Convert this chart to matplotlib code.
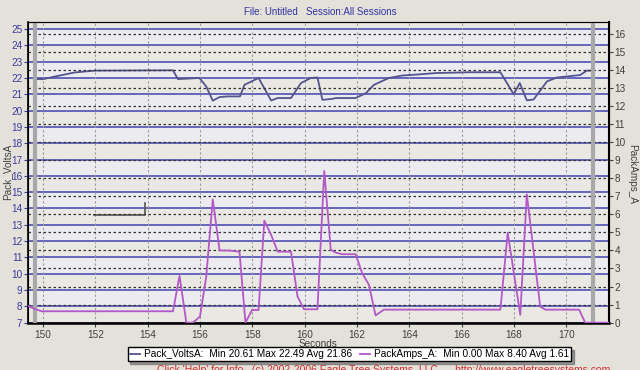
import numpy as np
import matplotlib.pyplot as plt
from matplotlib.lines import Line2D

plt.rcParams['font.family'] = ['Liberation Sans', 'DejaVu Sans']

# Pack_VoltsA trace (seconds, volts)
volts_t = [149.70, 150.01, 150.46, 151.22, 151.98, 154.97, 155.16, 155.98, 156.24,
           156.49, 156.75, 157.05, 157.53, 157.70, 158.24, 158.72, 158.97, 159.48,
           159.86, 160.24, 160.49, 160.68, 161.06, 161.19, 161.95, 162.34, 162.65,
           163.22, 163.73, 164.37, 165.00, 166.27, 167.48, 167.99, 168.22, 168.49,
           168.75, 169.26, 169.64, 170.53, 170.78, 170.97]
volts_v = [21.93, 21.93, 22.09, 22.34, 22.45, 22.47, 21.93, 22.00, 21.48,
           20.61, 20.83, 20.87, 20.87, 21.58, 22.00, 20.62, 20.77, 20.77,
           21.69, 22.00, 22.03, 20.66, 20.72, 20.77, 20.77, 21.07, 21.58,
           22.00, 22.15, 22.22, 22.30, 22.35, 22.35, 21.00, 21.69, 20.63,
           20.68, 21.79, 22.03, 22.18, 22.45, 22.45]

# PackAmps_A trace (seconds, amps)
amps_t = [149.44, 149.62, 149.95, 154.97, 155.22, 155.48, 155.73, 156.00, 156.24,
          156.49, 156.75, 157.13, 157.51, 157.74, 157.99, 158.24, 158.46, 158.72,
          158.97, 159.48, 159.73, 159.98, 160.49, 160.75, 161.00, 161.19, 161.44,
          161.95, 162.20, 162.46, 162.71, 163.03, 167.48, 167.76, 168.24, 168.49,
          169.00, 169.20, 170.49, 170.72, 171.60]
amps_a = [0.92, 0.80, 0.63, 0.63, 2.59, 0.00, 0.00, 0.33, 2.55,
          6.83, 4.00, 3.99, 3.93, 0.00, 0.70, 0.70, 5.65, 4.86,
          3.93, 3.93, 1.44, 0.74, 0.74, 8.40, 4.03, 3.88, 3.79,
          3.79, 2.74, 2.09, 0.40, 0.72, 0.72, 4.98, 0.43, 7.11,
          0.89, 0.72, 0.72, 0.00, 0.00]

# small gray bracket trace
mark_t = [151.96, 153.91, 153.91]
mark_v = [13.60, 13.60, 14.33]

cursor_t = [149.70, 171.00]

x_ticks = list(range(150, 171, 2))
volt_ticks = list(range(7, 26))
amp_ticks = list(range(0, 17))

title = 'File: Untitled   Session:All Sessions'
legend_volts = 'Pack_VoltsA:  Min 20.61 Max 22.49 Avg 21.86'
legend_amps = 'PackAmps_A:  Min 0.00 Max 8.40 Avg 1.61'
footer = "Click 'Help' for Info.  (c) 2002-2006 Eagle Tree Systems, LLC      http://www.eagletreesystems.com"

bg = '#e3e1da'
c_volts = '#54548e'
c_amps = '#b458c8'
c_grid = '#5c5cb8'

fig = plt.figure(figsize=(6.4, 3.7), dpi=100, facecolor=bg)
ax = fig.add_axes([0.04375, 0.127, 0.9078, 0.8135])
ax.set_facecolor('#e9e8e3')
ax.set_xlim(149.43, 171.63)
ax.set_ylim(6.98, 25.43)

# alternating bands
for v in volt_ticks[:-1]:
    if v % 2 == 0:
        ax.axhspan(v, v + 1, color='#ececf0', lw=0, zorder=0)

for v in volt_ticks:
    ax.axhline(v, color=c_grid, lw=1.3, zorder=1)
for t in x_ticks:
    ax.axvline(t, color='#9a9a9a', lw=0.8, ls=(0, (2, 2)), zorder=1)

ax.plot(volts_t, volts_v, color=c_volts, lw=1.3, zorder=4)
ax.plot(mark_t, mark_v, color='#555555', lw=1.2, zorder=4)

ax.set_xticks(x_ticks)
ax.set_yticks(volt_ticks)
ax.tick_params(axis='y', colors='#3c3ca0', labelsize=7.2, length=3, pad=1)
ax.tick_params(axis='x', colors='#404040', labelsize=7.2, length=3, pad=2)
for s in ax.spines.values():
    s.set_color('black')
ax.spines['bottom'].set_linewidth(1.8)
ax.spines['left'].set_linewidth(1.2)

ax2 = ax.twinx()
ax2.set_ylim(-0.02, 16.65)
ax2.set_yticks(amp_ticks)
for a in amp_ticks:
    ax2.axhline(a, color='#333333', lw=0.9, ls=(0, (2, 2)), zorder=1)
for t in cursor_t:
    ax2.axvline(t, color='#a8a8a8', lw=3, zorder=2)
ax2.plot(amps_t, amps_a, color=c_amps, lw=1.3, zorder=5)
ax2.tick_params(axis='y', colors='#404040', labelsize=7.2, length=3, pad=1)
ax2.spines['right'].set_linewidth(1.5)

# axis titles placed as in the reference
fig.text(0.5, 0.967, title, fontsize=7, color='#3434a0', ha='center', va='center')
fig.text(0.497, 0.07, 'Seconds', fontsize=7.2, color='#404040', ha='center', va='center')
fig.text(0.011, 0.535, 'Pack_VoltsA', fontsize=7.2, color='#404040', rotation=90,
         ha='center', va='center')
fig.text(0.987, 0.53, 'PackAmps_A', fontsize=7.2, color='#404040', rotation=-90,
         ha='center', va='center')

handles = [Line2D([], [], color=c_volts, lw=1.3), Line2D([], [], color=c_amps, lw=1.3)]
leg = fig.legend(handles, [legend_volts, legend_amps], ncol=2, loc='center',
                 bbox_to_anchor=(0.546, 0.043), fontsize=7.3, frameon=True,
                 fancybox=False, shadow=True, handlelength=1.0, handletextpad=0.4,
                 columnspacing=0.8, borderpad=0.2, borderaxespad=0)
leg.get_frame().set_edgecolor('black')
leg.get_frame().set_facecolor('white')
leg.get_frame().set_linewidth(1.0)

fig.text(0.245, 0.0, footer, fontsize=7.5, color='#d03030', ha='left', va='center')

fig.savefig('out.png', dpi=100, facecolor=bg)
